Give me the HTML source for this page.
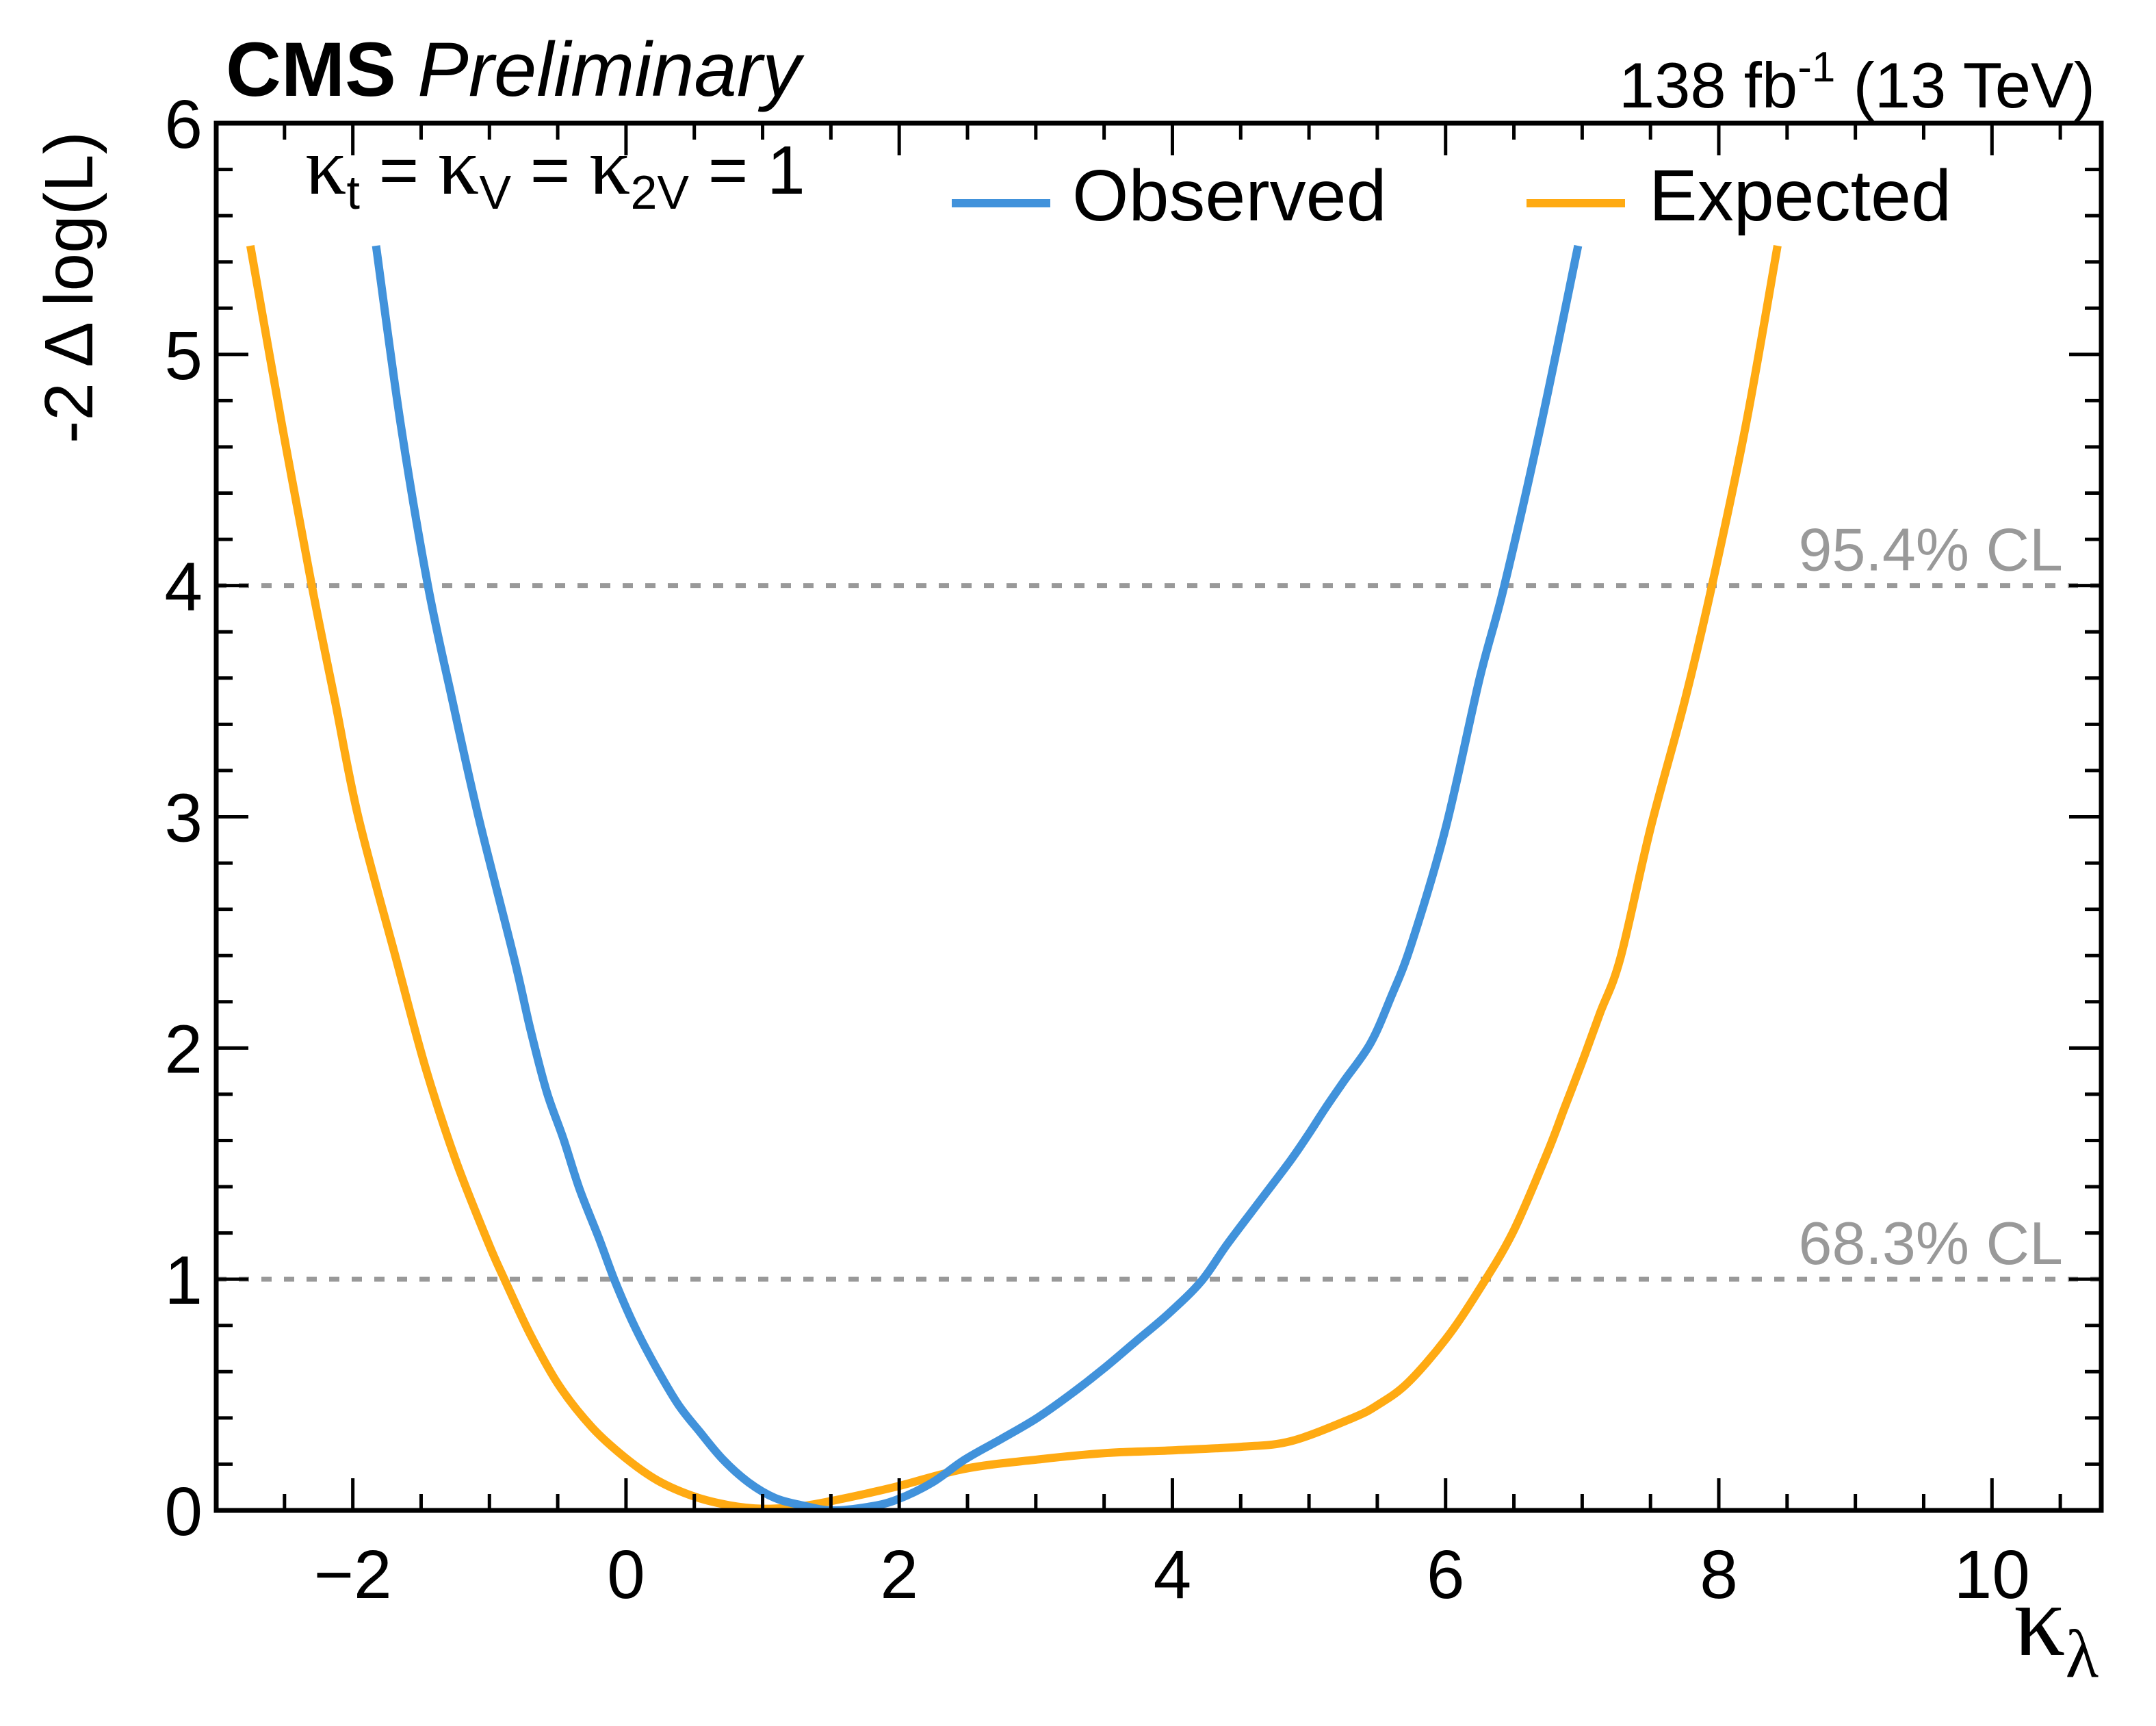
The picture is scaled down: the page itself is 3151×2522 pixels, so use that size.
<!DOCTYPE html>
<html><head><meta charset="utf-8">
<style>
html,body{margin:0;padding:0;background:#fff;}
svg{display:block;font-family:"Liberation Sans",Arial,sans-serif;}
</style></head>
<body>
<svg id="chart" width="3151" height="2522" viewBox="0 0 3151 2522" xmlns="http://www.w3.org/2000/svg">
<g id="marks"></g>
<g id="axes"></g>
<text x="330" y="140" font-size="112" font-weight="bold">CMS <tspan font-weight="normal" font-style="italic">Preliminary</tspan></text>
<text x="3062" y="157" font-size="94" text-anchor="end">138 fb<tspan font-size="62" dy="-38">-1</tspan><tspan dy="38"> (13 TeV)</tspan></text>
<text transform="translate(135,420) rotate(-90)" font-size="100" text-anchor="middle">-2 Δ log(L)</text>
<text x="2943" y="2418" font-size="150" font-family="'Liberation Serif',serif">κ<tspan font-size="100" dy="32">λ</tspan></text>
<text x="446" y="283" font-size="100"><tspan font-family="'Liberation Serif',serif" font-size="120">κ</tspan><tspan font-size="70" dy="22">t</tspan><tspan dy="-22"> = </tspan><tspan font-family="'Liberation Serif',serif" font-size="120">κ</tspan><tspan font-size="70" dy="22">V</tspan><tspan dy="-22"> = </tspan><tspan font-family="'Liberation Serif',serif" font-size="120">κ</tspan><tspan font-size="70" dy="22">2V</tspan><tspan dy="-22"> = 1</tspan></text>
<line x1="1391" y1="297" x2="1535" y2="297" stroke="#4192db" stroke-width="12"/>
<text x="1567" y="322" font-size="106">Observed</text>
<line x1="2231" y1="297" x2="2375" y2="297" stroke="#ffaa12" stroke-width="12"/>
<text x="2410" y="322" font-size="106">Expected</text>
</svg>
<script>
const obsX = [-1.83,-1.65,-1.45,-1.27,-1.08,-0.82,-0.70,-0.58,-0.46,-0.34,-0.20,-0.08,0.06,0.21,0.38,0.54,0.71,0.90,1.09,1.29,1.50,1.77,1.98,2.24,2.48,2.75,3.01,3.25,3.49,3.73,3.97,4.21,4.40,4.63,4.86,5.0,5.12,5.26,5.45,5.6,5.75,6.0,6.25,6.43,6.7,6.97];
const obsY = [5.47,4.7,4.0,3.5,3.0,2.39,2.08,1.81,1.61,1.39,1.18,0.99,0.80,0.63,0.46,0.34,0.22,0.12,0.054,0.022,0.0,0.015,0.046,0.12,0.22,0.31,0.40,0.50,0.61,0.73,0.85,0.99,1.15,1.33,1.51,1.63,1.74,1.86,2.02,2.22,2.45,2.95,3.6,4.0,4.7,5.47];
const expX = [-2.75,-2.52,-2.3,-2.13,-1.96,-1.685,-1.47,-1.25,-1.01,-0.89,-0.70,-0.49,-0.25,-0.01,0.23,0.50,0.76,1.0,1.24,1.48,1.96,2.48,3.01,3.51,4.0,4.5,4.87,5.32,5.5,5.72,6.0,6.23,6.49,6.74,6.87,7.0,7.13,7.28,7.5,7.75,7.95,8.2,8.43];
const expY = [5.47,4.7,4.0,3.5,3.0,2.39,1.92,1.52,1.16,1.0,0.76,0.54,0.36,0.23,0.13,0.06,0.022,0.007,0.015,0.038,0.10,0.18,0.22,0.248,0.26,0.275,0.30,0.40,0.455,0.55,0.74,0.94,1.2,1.54,1.74,1.94,2.15,2.39,2.95,3.5,4.0,4.7,5.47];
const xTicks = [-2,0,2,4,6,8,10];
const xTickLabels = ["\u22122","0","2","4","6","8","10"];
const yTicks = [0,1,2,3,4,5,6];
const yTickLabels = ["0","1","2","3","4","5","6"];
const clLevels = [1,4];
const clLabels = ["68.3% CL","95.4% CL"];

const L=316,R=3071,T=180,B=2207,XMIN=-3,XMAX=10.8,YMIN=0,YMAX=6;
const sx=v=>L+(v-XMIN)/(XMAX-XMIN)*(R-L);
const sy=v=>B-(v-YMIN)/(YMAX-YMIN)*(B-T);
const NS="http://www.w3.org/2000/svg";
const marks=document.getElementById('marks'), axes=document.getElementById('axes');
function mk(tag,attrs,parent){const e=document.createElementNS(NS,tag);for(const k in attrs)e.setAttribute(k,attrs[k]);parent.appendChild(e);return e;}

const clip=mk('clipPath',{id:'plotclip'},marks);
mk('rect',{x:L,y:T,width:R-L,height:B-T},clip);

clLevels.forEach((lv,i)=>{
  const ln=mk('line',{x1:L,x2:R,y1:sy(lv),y2:sy(lv),stroke:'#999999','stroke-width':7,'stroke-dasharray':'15 18'},marks);
  
  
  const t=mk('text',{x:3015,y:sy(lv)-22,'font-size':88,fill:'#999999','text-anchor':'end'},marks);
  t.textContent=clLabels[i];
  
  
});

function curve(xs,ys,color,name){
  const P=xs.map((x,i)=>[sx(x),sy(ys[i])]);
  let d='M'+P[0][0].toFixed(1)+' '+P[0][1].toFixed(1);
  for(let i=0;i<P.length-1;i++){
    const p0=P[Math.max(0,i-1)],p1=P[i],p2=P[i+1],p3=P[Math.min(P.length-1,i+2)];
    const c1=[p1[0]+(p2[0]-p0[0])/6,p1[1]+(p2[1]-p0[1])/6];
    const c2=[p2[0]-(p3[0]-p1[0])/6,p2[1]-(p3[1]-p1[1])/6];
    d+=' C'+c1[0].toFixed(1)+' '+c1[1].toFixed(1)+' '+c2[0].toFixed(1)+' '+c2[1].toFixed(1)+' '+p2[0].toFixed(1)+' '+p2[1].toFixed(1);
  }
  const p=mk('path',{d:d,fill:'none',stroke:color,'stroke-width':12,'stroke-linejoin':'round','clip-path':'url(#plotclip)'},marks);
  
  
}
curve(expX,expY,'#ffaa12','expected-curve');
curve(obsX,obsY,'#4192db','observed-curve');

const frame=mk('rect',{x:L,y:T,width:R-L,height:B-T,fill:'none',stroke:'#000','stroke-width':7},axes);



for(let v=-3;v<=10.8+1e-9;v+=0.5){
  const major=Math.abs(v-Math.round(v))<1e-9 && Math.round(v)%2===0;
  const len=major?47:24;
  mk('line',{x1:sx(v),x2:sx(v),y1:B,y2:B-len,stroke:'#000','stroke-width':5},axes);
  mk('line',{x1:sx(v),x2:sx(v),y1:T,y2:T+len,stroke:'#000','stroke-width':5},axes);
}
for(let v=0;v<=6+1e-9;v+=0.2){
  const major=Math.abs(v-Math.round(v))<1e-9;
  const len=major?47:24;
  mk('line',{x1:L,x2:L+len,y1:sy(v),y2:sy(v),stroke:'#000','stroke-width':5},axes);
  mk('line',{x1:R,x2:R-len,y1:sy(v),y2:sy(v),stroke:'#000','stroke-width':5},axes);
}
xTicks.forEach((v,i)=>{
  const t=mk('text',{x:sx(v),y:2335,'font-size':100,'text-anchor':'middle'},axes);
  t.textContent=xTickLabels[i];
  
  
});
yTicks.forEach((v,i)=>{
  const t=mk('text',{x:296,y:sy(v)+36,'font-size':100,'text-anchor':'end'},axes);
  t.textContent=yTickLabels[i];
  
  
});
</script>
</body></html>
